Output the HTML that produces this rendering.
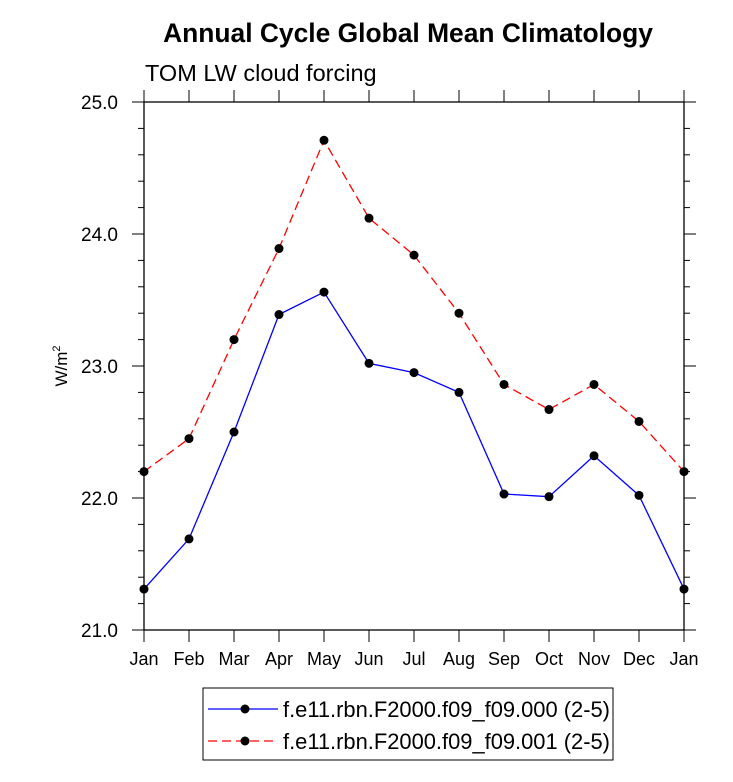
<!DOCTYPE html>
<html><head><meta charset="utf-8"><style>
body{margin:0;background:#fff;}
svg{display:block;font-family:"Liberation Sans",sans-serif;}
</style></head><body>
<svg id="chart" width="733" height="782" viewBox="0 0 733 782">
<text x="408" y="42" text-anchor="middle" font-size="26.4" font-weight="bold">Annual Cycle Global Mean Climatology</text>
<text x="145" y="81" font-size="23.5">TOM LW cloud forcing</text>
<text transform="translate(67,366) rotate(-90)" text-anchor="middle" font-size="17">W/m<tspan font-size="11" dy="-7">2</tspan></text>
<g id="axes"></g>
<g id="series"></g>
<rect x="203" y="688" width="410" height="72" fill="none" stroke="#000" stroke-width="1"/>
<g>
<line x1="208" y1="709" x2="278" y2="709" stroke="#00f" stroke-width="1.3"/>
<circle cx="245" cy="709" r="4.5" fill="#000"/>
<text x="283" y="717" font-size="21.9">f.e11.rbn.F2000.f09_f09.000 (2-5)</text>
</g>
<g>
<line x1="208" y1="741" x2="278" y2="741" stroke="#f00" stroke-width="1.3" stroke-dasharray="9,5"/>
<circle cx="245" cy="741" r="4.5" fill="#000"/>
<text x="283" y="749" font-size="21.9">f.e11.rbn.F2000.f09_f09.001 (2-5)</text>
</g>
</svg>
<script>
const months = ["Jan","Feb","Mar","Apr","May","Jun","Jul","Aug","Sep","Oct","Nov","Dec","Jan"];
const series000 = [21.31,21.69,22.50,23.39,23.56,23.02,22.95,22.80,22.03,22.01,22.32,22.02,21.31];
const series001 = [22.20,22.45,23.20,23.89,24.71,24.12,23.84,23.40,22.86,22.67,22.86,22.58,22.20];
const yTicks = [21.0,22.0,23.0,24.0,25.0];
const NS="http://www.w3.org/2000/svg";
const X0=144,X1=684,Y0=630,Y1=102,ymin=21,ymax=25;
const xs=i=>X0+(X1-X0)*i/(months.length-1);
const ys=v=>Y0-(v-ymin)/(ymax-ymin)*(Y0-Y1);
function mk(t,a,p){const e=document.createElementNS(NS,t);for(const k in a)e.setAttribute(k,a[k]);p.appendChild(e);return e;}
const ax=document.getElementById('axes');
const frame=mk('rect',{x:X0,y:Y1,width:X1-X0,height:Y0-Y1,fill:'none',stroke:'#000','stroke-width':1.3},ax);


months.forEach((m,i)=>{const x=xs(i);
mk('line',{x1:x,y1:Y0,x2:x,y2:Y0+12,stroke:'#000'},ax);
mk('line',{x1:x,y1:Y1,x2:x,y2:Y1-12,stroke:'#000'},ax);
const t=mk('text',{x:x,y:Y0+35,'text-anchor':'middle','font-size':18},ax);t.textContent=m;

});
for(let v=ymin;v<=ymax+1e-6;v+=0.2){const y=ys(v);const major=Math.abs(v-Math.round(v))<1e-6;const L=major?12:6;
mk('line',{x1:X0,y1:y,x2:X0-L,y2:y,stroke:'#000'},ax);
mk('line',{x1:X1,y1:y,x2:X1+L,y2:y,stroke:'#000'},ax);}
yTicks.forEach(v=>{const t=mk('text',{x:118,y:ys(v)+7,'text-anchor':'end','font-size':19},ax);t.textContent=v.toFixed(1);

});
const sg=document.getElementById('series');
function draw(vals,color,dash,name){const g=mk('g',{},sg);


mk('polyline',{points:vals.map((v,i)=>xs(i)+','+ys(v)).join(' '),fill:'none',stroke:color,'stroke-width':1.3,'stroke-dasharray':dash},g);
vals.forEach((v,i)=>{const c=mk('circle',{cx:xs(i),cy:ys(v),r:4.5,fill:'#000'},g);

});}
draw(series001,'#f00','9,5','series-001');
draw(series000,'#00f','none','series-000');
</script>
</body></html>
